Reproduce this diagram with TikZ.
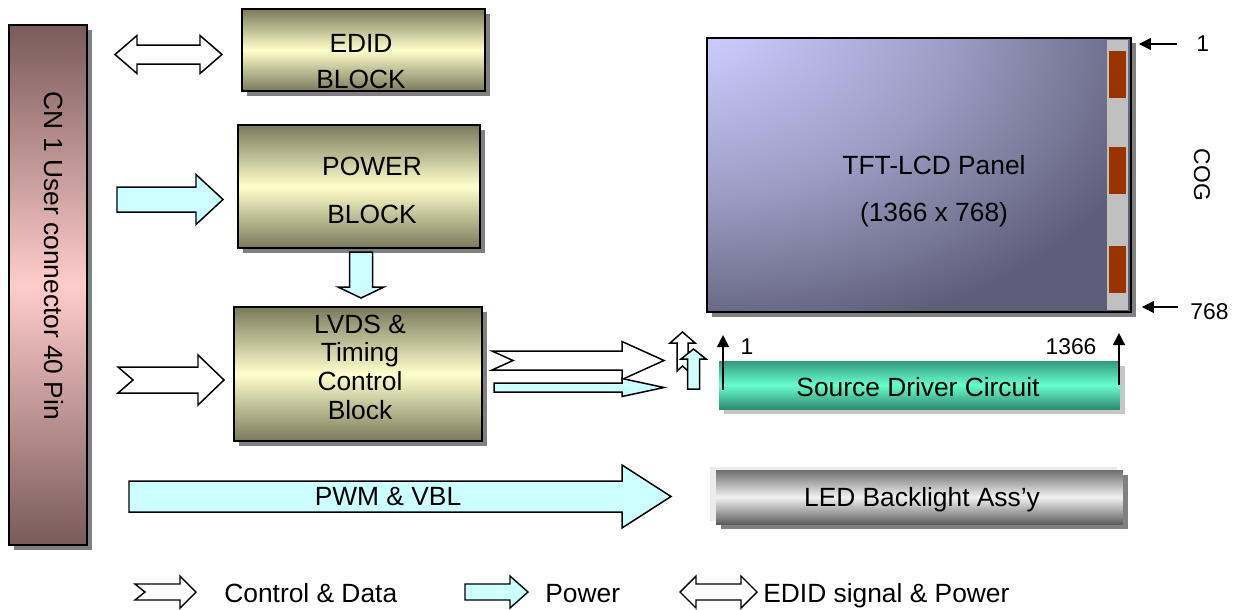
\documentclass[tikz,border=0pt]{standalone}
\usepackage{fontspec}
\setmainfont{Liberation Sans}
\usetikzlibrary{arrows.meta,calc,shadows}
\definecolor{cConnEdge}{HTML}{7A5A5A}
\definecolor{cConnPink}{HTML}{FFCCCC}
\definecolor{cOlive}{HTML}{7A7A5C}
\definecolor{cCream}{HTML}{FFFFCC}
\definecolor{cPower}{HTML}{CCFFFF}
\definecolor{cShadow}{HTML}{808080}
\definecolor{cPanelLight}{HTML}{CCCCFF}
\definecolor{cPanelMid}{HTML}{9A9AC2}
\definecolor{cPanelDark}{HTML}{5E5E78}
\definecolor{cCog}{HTML}{C0C0C0}
\definecolor{cPad}{HTML}{993300}
\definecolor{cSrcEdge}{HTML}{339980}
\definecolor{cSrcMid}{HTML}{66FFCC}
\definecolor{cLedEdge}{HTML}{6E6E6E}
\definecolor{cLedMid}{HTML}{F2F2F2}
\pgfdeclareradialshading{panelshade}{\pgfpoint{-35bp}{35bp}}{%
  color(0bp)=(cPanelLight); color(10bp)=(cPanelLight); color(32bp)=(cPanelMid);
  color(52bp)=(cPanelDark); color(140bp)=(cPanelDark)}
\tikzset{
  shadowed/.style={
    drop shadow={shadow xshift=0.1cm, shadow yshift=-0.1cm, fill=cShadow, opacity=1},
  },
  plainbox/.style={
    inner sep=0pt, outer sep=0pt,
  },
  connbox/.style={
    plainbox, draw, line width=1.1pt, shadowed,
    top color=cConnEdge, bottom color=cConnEdge, middle color=cConnPink,
    minimum width=1.56cm, minimum height=10.4cm,
  },
  olivebox/.style={
    plainbox, draw, line width=1.1pt, shadowed,
    top color=cOlive, bottom color=cOlive, middle color=cCream,
  },
  panelbox/.style={
    plainbox, draw, line width=1.1pt, shadowed, shading=panelshade,
    minimum width=8.48cm, minimum height=5.48cm,
  },
  padbox/.style={
    plainbox, fill=cPad, minimum width=0.34cm, minimum height=0.94cm,
  },
  srcbox/.style={
    plainbox,
    drop shadow={shadow xshift=0.1cm, shadow yshift=-0.1cm, fill=gray!45, opacity=1},
    top color=cSrcEdge, bottom color=cSrcEdge!90!black, middle color=cSrcMid,
    minimum width=8.02cm, minimum height=0.96cm,
  },
  ledbox/.style={
    plainbox,
    drop shadow={shadow xshift=-0.12cm, shadow yshift=0.06cm, fill=gray!15, opacity=1},
    drop shadow={shadow xshift=0.1cm, shadow yshift=-0.1cm, fill=cShadow, opacity=1},
    top color=cLedEdge, bottom color=cLedEdge!85!black, middle color=cLedMid,
    minimum width=8.14cm, minimum height=1.08cm,
  },
  lbl/.style={
    font=\fontsize{15}{18}\selectfont, inner sep=0pt,
  },
  numlbl/.style={
    font=\fontsize{13}{15}\selectfont, inner sep=0pt,
  },
  pinarr/.style={
    -{Triangle[length=0.24cm, width=0.24cm]}, line width=0.8pt,
  },
  hollowarr/.style={
    draw, fill=white, line width=0.85pt,
  },
  powerarr/.style={
    draw, fill=cPower, line width=0.85pt,
  },
  % #1 length, #2 shaft half width, #3 head half width, #4 head length
  pics/fatarrow/.style n args={4}{code={
    \path[pic actions] (0,-#2) -- (#1-#4,-#2) -- (#1-#4,-#3) -- (#1,0)
      -- (#1-#4,#3) -- (#1-#4,#2) -- (0,#2) -- cycle;
  }},
  % same, #5 notch depth
  pics/notcharrow/.style n args={5}{code={
    \path[pic actions] (0,-#2) -- (#1-#4,-#2) -- (#1-#4,-#3) -- (#1,0)
      -- (#1-#4,#3) -- (#1-#4,#2) -- (0,#2) -- (#5,0) -- cycle;
  }},
  pics/twinarrow/.style n args={4}{code={
    \path[pic actions] (0,0) -- (#4,-#3) -- (#4,-#2) -- (#1-#4,-#2) -- (#1-#4,-#3)
      -- (#1,0) -- (#1-#4,#3) -- (#1-#4,#2) -- (#4,#2) -- (#4,#3) -- cycle;
  }},
}

\begin{document}
\begin{tikzpicture}[x=0.02cm, y=-0.02cm]
\useasboundingbox (0,0) rectangle (1240,609);

% --- user connector ---
\node[connbox] (cn) at (48,285) {};
\node[lbl, rotate=-90] (cntxt) at (54,256) {CN 1 User connector 40 Pin};

% --- blocks ---
\node[olivebox, minimum width=4.86cm, minimum height=1.64cm] (edid) at (363.5,50) {};
\node[lbl, align=center, font=\fontsize{15}{20.5}\selectfont] (edidtxt) at (361,62) {EDID\\BLOCK};

\node[olivebox, minimum width=4.84cm, minimum height=2.46cm] (power) at (359,186.5) {};
\node[lbl, align=center, font=\fontsize{15}{27.3}\selectfont] (powertxt) at (372,190) {POWER\\BLOCK};

\node[olivebox, minimum width=4.96cm, minimum height=2.68cm] (lvds) at (358,374) {};
\node[lbl, align=center, font=\fontsize{15}{16.3}\selectfont] (lvdstxt) at (360,367)
  {LVDS \&\\Timing\\Control\\Block};

% --- panel ---
\node[panelbox] (panel) at (919,175) {};
\node[plainbox, fill=cCog, minimum width=0.42cm, minimum height=5.4cm] (cog) at (1117.5,175) {};
\foreach \i/\y in {1/74.5, 2/170, 3/269.5}
  \node[padbox] (pad\i) at (1117.5,\y) {};
\node[lbl] (paneltxt) at (934,165) {TFT-LCD Panel};
\node[lbl] (panelres) at (934,215) {(1366 x 768)};

\node[numlbl, anchor=west] (rowfirst) at (1196,44) {1};
\node[numlbl, anchor=west] (rowlast) at (1190,312) {768};
\node[numlbl, rotate=-90] (cogtxt) at (1202,175) {COG};
\draw[pinarr] ($(rowfirst.west)+(-19,0)$) -- ($(panel.east |- rowfirst)+(8,0)$);
\draw[pinarr] ($(rowlast.west)+(-12,-5)$) -- ($(panel.east |- rowlast)+(11,-5)$);

% --- source driver ---
\node[srcbox] (src) at (919.5,385) {};
\node[lbl] (srctxt) at (918,387) {Source Driver Circuit};
\node[numlbl] (colfirst) at (747,347) {1};
\node[numlbl] (collast) at (1071,347) {1366};
\draw[pinarr] ($(src.west)+(4,5)$) -- ($(src.north west)+(4,-26)$);
\draw[pinarr] ($(src.east)+(-1,0)$) -- ($(src.north east)+(-1,-28)$);

% --- backlight ---
\node[ledbox] (led) at (919.5,497) {};
\node[lbl] (ledtxt) at (922,500) {LED Backlight Ass'y};

% --- block arrows ---
\pic[hollowarr] (edidlink) at (115,54.5) {twinarrow={107}{9.5}{19}{22}};
\pic[powerarr] (powerin) at (117,199.5) {fatarrow={106}{12.5}{25}{27}};
\pic[powerarr, rotate=-90] (powerdown) at (361,252) {fatarrow={46}{11.5}{23}{11}};
\pic[hollowarr] (ctrlin) at (118,380) {notcharrow={106}{13}{25}{26}{15}};
\pic[hollowarr] (ctrlout) at (492,360.5) {notcharrow={172}{9.5}{19}{42}{21}};
\pic[powerarr] (powerout) at (494,387.5) {fatarrow={170}{4.5}{9}{42}};
\pic[hollowarr, rotate=90] (ctrlup) at (682.5,371) {notcharrow={39}{5.5}{12.5}{11}{5}};
\pic[powerarr, rotate=90] (powerup) at (693.5,389) {fatarrow={40}{6}{12.5}{10}};
\pic[powerarr] (pwm) at (129,496.5) {fatarrow={542}{15.5}{31.5}{49}};
\node[lbl] (pwmtxt) at (388,496.5) {PWM \& VBL};

% --- legend ---
\pic[hollowarr, line width=0.8pt] (keyctrl) at (135,592) {notcharrow={61}{8}{16}{16}{10}};
\node[lbl, anchor=base west] (keyctrltxt) at (224,602) {Control \& Data};
\pic[powerarr, line width=0.8pt] (keypower) at (465,592) {fatarrow={63}{8}{16}{18}};
\node[lbl, anchor=base west] (keypowertxt) at (545,602) {Power};
\pic[hollowarr, line width=0.8pt] (keyedid) at (680,592) {twinarrow={77}{8}{16}{16}};
\node[lbl, anchor=base west] (keyedidtxt) at (763,602) {EDID signal \& Power};

\end{tikzpicture}
\end{document}
